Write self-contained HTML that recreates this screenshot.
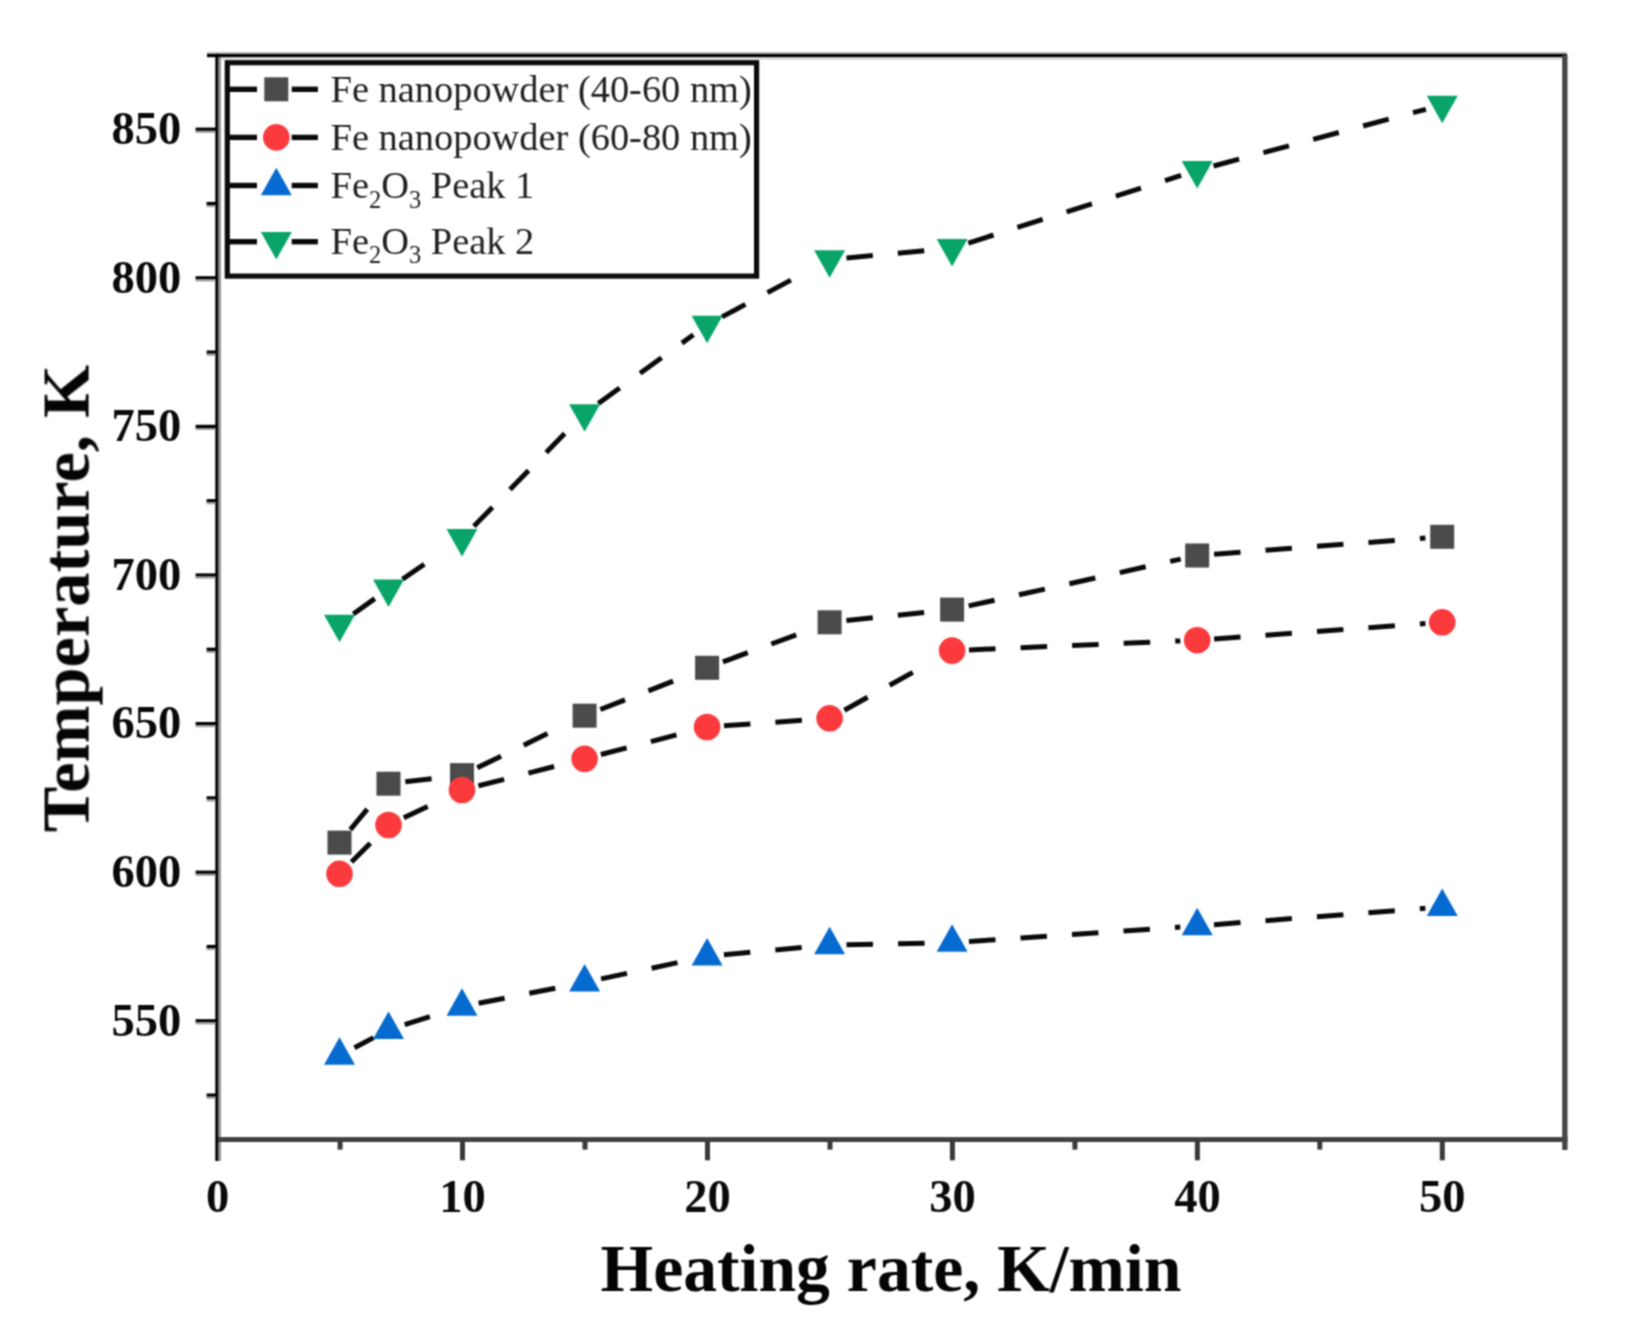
<!DOCTYPE html>
<html><head><meta charset="utf-8"><title>Heating rate chart</title>
<style>html,body{margin:0;padding:0;background:#fff}svg{display:block}text{font-family:"Liberation Serif","Times New Roman",serif}</style></head><body>
<svg width="1627" height="1332" viewBox="0 0 1627 1332">
<rect width="1627" height="1332" fill="#fff"/>
<defs><filter id="soft" color-interpolation-filters="sRGB" x="0" y="0" width="1627" height="1332" filterUnits="userSpaceOnUse"><feConvolveMatrix order="3" kernelMatrix="1 2 1 2 4 2 1 2 1" divisor="16" edgeMode="duplicate" preserveAlpha="false"/></filter></defs>
<g id="chart" style="filter:url(#soft)">
<rect x="215.3" y="53" width="3.2" height="1108" fill="#000"/>
<rect x="218.5" y="57" width="2.4" height="1104" fill="#8c8c8c"/>
<rect x="207" y="53.8" width="1360" height="3.4" fill="#000"/>
<rect x="207" y="52.2" width="1360" height="1.6" fill="#aaa"/>
<rect x="221" y="57.2" width="1342" height="2.2" fill="#ccc"/>
<rect x="218" y="1137.1" width="1349.5" height="4.9" fill="#404040"/>
<rect x="1562.2" y="55" width="5.3" height="1095" fill="#444"/>
<rect x="337.6" y="1140" width="5" height="9.6" fill="#3a3a3a"/>
<rect x="460.0" y="1140" width="5" height="20.3" fill="#3a3a3a"/>
<rect x="582.5" y="1140" width="5" height="9.6" fill="#3a3a3a"/>
<rect x="705.0" y="1140" width="5" height="20.3" fill="#3a3a3a"/>
<rect x="827.5" y="1140" width="5" height="9.6" fill="#3a3a3a"/>
<rect x="949.9" y="1140" width="5" height="20.3" fill="#3a3a3a"/>
<rect x="1072.4" y="1140" width="5" height="9.6" fill="#3a3a3a"/>
<rect x="1194.9" y="1140" width="5" height="20.3" fill="#3a3a3a"/>
<rect x="1317.3" y="1140" width="5" height="9.6" fill="#3a3a3a"/>
<rect x="1439.8" y="1140" width="5" height="20.3" fill="#3a3a3a"/>
<rect x="206.6" y="1093.5" width="10" height="3.2" fill="#000"/><rect x="206.6" y="1096.7" width="9" height="2" fill="#9a9a9a"/>
<rect x="195.6" y="1019.2" width="21" height="3.2" fill="#000"/><rect x="195.6" y="1022.4" width="20" height="2" fill="#9a9a9a"/>
<rect x="206.6" y="944.9" width="10" height="3.2" fill="#000"/><rect x="206.6" y="948.1" width="9" height="2" fill="#9a9a9a"/>
<rect x="195.6" y="870.6" width="21" height="3.2" fill="#000"/><rect x="195.6" y="873.8" width="20" height="2" fill="#9a9a9a"/>
<rect x="206.6" y="796.3" width="10" height="3.2" fill="#000"/><rect x="206.6" y="799.5" width="9" height="2" fill="#9a9a9a"/>
<rect x="195.6" y="722.0" width="21" height="3.2" fill="#000"/><rect x="195.6" y="725.2" width="20" height="2" fill="#9a9a9a"/>
<rect x="206.6" y="647.7" width="10" height="3.2" fill="#000"/><rect x="206.6" y="650.9" width="9" height="2" fill="#9a9a9a"/>
<rect x="195.6" y="573.4" width="21" height="3.2" fill="#000"/><rect x="195.6" y="576.6" width="20" height="2" fill="#9a9a9a"/>
<rect x="206.6" y="499.1" width="10" height="3.2" fill="#000"/><rect x="206.6" y="502.3" width="9" height="2" fill="#9a9a9a"/>
<rect x="195.6" y="424.8" width="21" height="3.2" fill="#000"/><rect x="195.6" y="428.0" width="20" height="2" fill="#9a9a9a"/>
<rect x="206.6" y="350.5" width="10" height="3.2" fill="#000"/><rect x="206.6" y="353.7" width="9" height="2" fill="#9a9a9a"/>
<rect x="195.6" y="276.2" width="21" height="3.2" fill="#000"/><rect x="195.6" y="279.4" width="20" height="2" fill="#9a9a9a"/>
<rect x="206.6" y="201.9" width="10" height="3.2" fill="#000"/><rect x="206.6" y="205.1" width="9" height="2" fill="#9a9a9a"/>
<rect x="195.6" y="127.6" width="21" height="3.2" fill="#000"/><rect x="195.6" y="130.8" width="20" height="2" fill="#9a9a9a"/>
<text x="217.6" y="1212" font-size="46.5" font-weight="bold" text-anchor="middle" fill="#0a0a0a">0</text>
<text x="462.5" y="1212" font-size="46.5" font-weight="bold" text-anchor="middle" fill="#0a0a0a">10</text>
<text x="707.5" y="1212" font-size="46.5" font-weight="bold" text-anchor="middle" fill="#0a0a0a">20</text>
<text x="952.4" y="1212" font-size="46.5" font-weight="bold" text-anchor="middle" fill="#0a0a0a">30</text>
<text x="1197.4" y="1212" font-size="46.5" font-weight="bold" text-anchor="middle" fill="#0a0a0a">40</text>
<text x="1442.3" y="1212" font-size="46.5" font-weight="bold" text-anchor="middle" fill="#0a0a0a">50</text>
<text x="181.3" y="1035.5" font-size="46.5" font-weight="bold" text-anchor="end" fill="#0a0a0a">550</text>
<text x="181.3" y="886.9" font-size="46.5" font-weight="bold" text-anchor="end" fill="#0a0a0a">600</text>
<text x="181.3" y="738.3" font-size="46.5" font-weight="bold" text-anchor="end" fill="#0a0a0a">650</text>
<text x="181.3" y="589.7" font-size="46.5" font-weight="bold" text-anchor="end" fill="#0a0a0a">700</text>
<text x="181.3" y="441.1" font-size="46.5" font-weight="bold" text-anchor="end" fill="#0a0a0a">750</text>
<text x="181.3" y="292.5" font-size="46.5" font-weight="bold" text-anchor="end" fill="#0a0a0a">800</text>
<text x="181.3" y="143.9" font-size="46.5" font-weight="bold" text-anchor="end" fill="#0a0a0a">850</text>
<text x="891" y="1290.6" font-size="67.7" font-weight="bold" text-anchor="middle" fill="#050505">Heating rate, K/min</text>
<text transform="translate(88.6,598.5) rotate(-90)" font-size="68.4" font-weight="bold" text-anchor="middle" fill="#050505">Temperature, K</text>
<line x1="350.3" y1="829.6" x2="367.3" y2="809.2" stroke="#0a0a0a" stroke-width="5.0"/>
<line x1="405.3" y1="781.8" x2="431.6" y2="778.7" stroke="#0a0a0a" stroke-width="5.0"/>
<line x1="477.3" y1="767.7" x2="501.1" y2="756.2" stroke="#0a0a0a" stroke-width="5.0"/>
<line x1="523.7" y1="745.2" x2="547.5" y2="733.6" stroke="#0a0a0a" stroke-width="5.0"/>
<line x1="600.3" y1="709.5" x2="625.0" y2="699.9" stroke="#0a0a0a" stroke-width="5.0"/>
<line x1="648.4" y1="690.8" x2="673.1" y2="681.1" stroke="#0a0a0a" stroke-width="5.0"/>
<line x1="722.9" y1="661.9" x2="747.8" y2="652.7" stroke="#0a0a0a" stroke-width="5.0"/>
<line x1="771.3" y1="644.0" x2="796.2" y2="634.8" stroke="#0a0a0a" stroke-width="5.0"/>
<line x1="846.4" y1="620.6" x2="872.8" y2="617.8" stroke="#0a0a0a" stroke-width="5.0"/>
<line x1="897.8" y1="615.2" x2="924.1" y2="612.5" stroke="#0a0a0a" stroke-width="5.0"/>
<line x1="968.7" y1="605.9" x2="994.5" y2="600.2" stroke="#0a0a0a" stroke-width="5.0"/>
<line x1="1019.0" y1="594.8" x2="1044.9" y2="589.1" stroke="#0a0a0a" stroke-width="5.0"/>
<line x1="1069.4" y1="583.7" x2="1095.3" y2="578.0" stroke="#0a0a0a" stroke-width="5.0"/>
<line x1="1119.8" y1="572.6" x2="1145.7" y2="566.8" stroke="#0a0a0a" stroke-width="5.0"/>
<line x1="1170.2" y1="561.4" x2="1180.7" y2="559.1" stroke="#0a0a0a" stroke-width="5.0"/>
<line x1="1214.1" y1="554.2" x2="1240.5" y2="552.2" stroke="#0a0a0a" stroke-width="5.0"/>
<line x1="1265.5" y1="550.3" x2="1291.9" y2="548.2" stroke="#0a0a0a" stroke-width="5.0"/>
<line x1="1317.0" y1="546.3" x2="1343.4" y2="544.3" stroke="#0a0a0a" stroke-width="5.0"/>
<line x1="1368.4" y1="542.4" x2="1394.8" y2="540.4" stroke="#0a0a0a" stroke-width="5.0"/>
<line x1="1419.9" y1="538.5" x2="1425.4" y2="538.0" stroke="#0a0a0a" stroke-width="5.0"/>
<line x1="351.5" y1="861.9" x2="370.3" y2="843.2" stroke="#0a0a0a" stroke-width="5.0"/>
<line x1="403.8" y1="817.8" x2="427.7" y2="806.4" stroke="#0a0a0a" stroke-width="5.0"/>
<line x1="478.4" y1="785.8" x2="504.1" y2="779.3" stroke="#0a0a0a" stroke-width="5.0"/>
<line x1="528.4" y1="773.1" x2="554.1" y2="766.5" stroke="#0a0a0a" stroke-width="5.0"/>
<line x1="600.9" y1="754.5" x2="626.6" y2="747.9" stroke="#0a0a0a" stroke-width="5.0"/>
<line x1="650.9" y1="741.6" x2="676.5" y2="734.9" stroke="#0a0a0a" stroke-width="5.0"/>
<line x1="724.0" y1="725.8" x2="750.4" y2="723.9" stroke="#0a0a0a" stroke-width="5.0"/>
<line x1="775.4" y1="722.2" x2="801.9" y2="720.3" stroke="#0a0a0a" stroke-width="5.0"/>
<line x1="844.4" y1="710.2" x2="867.6" y2="697.3" stroke="#0a0a0a" stroke-width="5.0"/>
<line x1="889.6" y1="685.2" x2="912.8" y2="672.4" stroke="#0a0a0a" stroke-width="5.0"/>
<line x1="969.0" y1="649.9" x2="995.5" y2="648.7" stroke="#0a0a0a" stroke-width="5.0"/>
<line x1="1020.6" y1="647.7" x2="1047.1" y2="646.6" stroke="#0a0a0a" stroke-width="5.0"/>
<line x1="1072.1" y1="645.5" x2="1098.6" y2="644.4" stroke="#0a0a0a" stroke-width="5.0"/>
<line x1="1123.7" y1="643.3" x2="1150.2" y2="642.2" stroke="#0a0a0a" stroke-width="5.0"/>
<line x1="1175.2" y1="641.1" x2="1180.3" y2="640.9" stroke="#0a0a0a" stroke-width="5.0"/>
<line x1="1214.1" y1="639.0" x2="1240.5" y2="637.0" stroke="#0a0a0a" stroke-width="5.0"/>
<line x1="1265.5" y1="635.2" x2="1291.9" y2="633.3" stroke="#0a0a0a" stroke-width="5.0"/>
<line x1="1317.0" y1="631.5" x2="1343.4" y2="629.5" stroke="#0a0a0a" stroke-width="5.0"/>
<line x1="1368.4" y1="627.7" x2="1394.9" y2="625.8" stroke="#0a0a0a" stroke-width="5.0"/>
<line x1="1419.9" y1="624.0" x2="1425.4" y2="623.6" stroke="#0a0a0a" stroke-width="5.0"/>
<line x1="354.5" y1="1047.7" x2="373.6" y2="1037.6" stroke="#0a0a0a" stroke-width="5.0"/>
<line x1="404.7" y1="1024.6" x2="429.9" y2="1016.7" stroke="#0a0a0a" stroke-width="5.0"/>
<line x1="478.6" y1="1003.3" x2="504.6" y2="998.2" stroke="#0a0a0a" stroke-width="5.0"/>
<line x1="529.3" y1="993.3" x2="555.3" y2="988.2" stroke="#0a0a0a" stroke-width="5.0"/>
<line x1="601.1" y1="978.9" x2="627.0" y2="973.4" stroke="#0a0a0a" stroke-width="5.0"/>
<line x1="651.6" y1="968.2" x2="677.5" y2="962.6" stroke="#0a0a0a" stroke-width="5.0"/>
<line x1="723.9" y1="954.8" x2="750.3" y2="952.3" stroke="#0a0a0a" stroke-width="5.0"/>
<line x1="775.3" y1="950.0" x2="801.7" y2="947.6" stroke="#0a0a0a" stroke-width="5.0"/>
<line x1="846.5" y1="944.7" x2="873.0" y2="944.2" stroke="#0a0a0a" stroke-width="5.0"/>
<line x1="898.1" y1="943.7" x2="924.6" y2="943.2" stroke="#0a0a0a" stroke-width="5.0"/>
<line x1="969.0" y1="941.5" x2="995.5" y2="939.7" stroke="#0a0a0a" stroke-width="5.0"/>
<line x1="1020.5" y1="938.0" x2="1046.9" y2="936.2" stroke="#0a0a0a" stroke-width="5.0"/>
<line x1="1072.0" y1="934.5" x2="1098.4" y2="932.7" stroke="#0a0a0a" stroke-width="5.0"/>
<line x1="1123.5" y1="931.0" x2="1149.9" y2="929.2" stroke="#0a0a0a" stroke-width="5.0"/>
<line x1="1174.9" y1="927.5" x2="1180.3" y2="927.1" stroke="#0a0a0a" stroke-width="5.0"/>
<line x1="1214.0" y1="924.7" x2="1240.5" y2="922.6" stroke="#0a0a0a" stroke-width="5.0"/>
<line x1="1265.5" y1="920.7" x2="1291.9" y2="918.6" stroke="#0a0a0a" stroke-width="5.0"/>
<line x1="1316.9" y1="916.7" x2="1343.4" y2="914.7" stroke="#0a0a0a" stroke-width="5.0"/>
<line x1="1368.4" y1="912.7" x2="1394.8" y2="910.7" stroke="#0a0a0a" stroke-width="5.0"/>
<line x1="1419.8" y1="908.7" x2="1425.4" y2="908.3" stroke="#0a0a0a" stroke-width="5.0"/>
<line x1="353.3" y1="614.0" x2="374.8" y2="598.6" stroke="#0a0a0a" stroke-width="5.0"/>
<line x1="402.5" y1="579.2" x2="424.3" y2="564.2" stroke="#0a0a0a" stroke-width="5.0"/>
<line x1="473.9" y1="526.2" x2="492.5" y2="507.3" stroke="#0a0a0a" stroke-width="5.0"/>
<line x1="510.0" y1="489.4" x2="528.6" y2="470.4" stroke="#0a0a0a" stroke-width="5.0"/>
<line x1="546.2" y1="452.5" x2="564.7" y2="433.6" stroke="#0a0a0a" stroke-width="5.0"/>
<line x1="598.3" y1="403.5" x2="619.7" y2="388.0" stroke="#0a0a0a" stroke-width="5.0"/>
<line x1="640.1" y1="373.3" x2="661.6" y2="357.8" stroke="#0a0a0a" stroke-width="5.0"/>
<line x1="681.9" y1="343.1" x2="693.4" y2="334.8" stroke="#0a0a0a" stroke-width="5.0"/>
<line x1="722.0" y1="316.9" x2="745.4" y2="304.4" stroke="#0a0a0a" stroke-width="5.0"/>
<line x1="767.5" y1="292.6" x2="790.9" y2="280.1" stroke="#0a0a0a" stroke-width="5.0"/>
<line x1="846.5" y1="257.9" x2="872.8" y2="255.5" stroke="#0a0a0a" stroke-width="5.0"/>
<line x1="897.8" y1="253.2" x2="924.2" y2="250.7" stroke="#0a0a0a" stroke-width="5.0"/>
<line x1="968.3" y1="243.1" x2="993.5" y2="235.0" stroke="#0a0a0a" stroke-width="5.0"/>
<line x1="1017.4" y1="227.4" x2="1042.7" y2="219.4" stroke="#0a0a0a" stroke-width="5.0"/>
<line x1="1066.6" y1="211.8" x2="1091.9" y2="203.8" stroke="#0a0a0a" stroke-width="5.0"/>
<line x1="1115.8" y1="196.2" x2="1141.0" y2="188.2" stroke="#0a0a0a" stroke-width="5.0"/>
<line x1="1165.0" y1="180.6" x2="1181.1" y2="175.4" stroke="#0a0a0a" stroke-width="5.0"/>
<line x1="1213.5" y1="166.0" x2="1239.1" y2="159.1" stroke="#0a0a0a" stroke-width="5.0"/>
<line x1="1263.4" y1="152.6" x2="1289.0" y2="145.8" stroke="#0a0a0a" stroke-width="5.0"/>
<line x1="1313.2" y1="139.3" x2="1338.8" y2="132.5" stroke="#0a0a0a" stroke-width="5.0"/>
<line x1="1363.1" y1="126.0" x2="1388.7" y2="119.2" stroke="#0a0a0a" stroke-width="5.0"/>
<line x1="1413.0" y1="112.7" x2="1425.9" y2="109.3" stroke="#0a0a0a" stroke-width="5.0"/>
<rect x="327.5" y="830.6" width="24.0" height="24.0" fill="#4b4b4b"/>
<rect x="376.5" y="771.7" width="24.0" height="24.0" fill="#4b4b4b"/>
<rect x="450.0" y="763.1" width="24.0" height="24.0" fill="#4b4b4b"/>
<rect x="572.6" y="703.7" width="24.0" height="24.0" fill="#4b4b4b"/>
<rect x="695.1" y="655.8" width="24.0" height="24.0" fill="#4b4b4b"/>
<rect x="817.6" y="610.3" width="24.0" height="24.0" fill="#4b4b4b"/>
<rect x="940.1" y="597.6" width="24.0" height="24.0" fill="#4b4b4b"/>
<rect x="1185.2" y="543.5" width="24.0" height="24.0" fill="#4b4b4b"/>
<rect x="1430.2" y="524.8" width="24.0" height="24.0" fill="#4b4b4b"/>
<circle cx="339.5" cy="873.8" r="13.3" fill="#fb3a3e"/>
<circle cx="388.5" cy="825.0" r="13.3" fill="#fb3a3e"/>
<circle cx="462.0" cy="790.0" r="13.3" fill="#fb3a3e"/>
<circle cx="584.6" cy="758.8" r="13.3" fill="#fb3a3e"/>
<circle cx="707.1" cy="727.0" r="13.3" fill="#fb3a3e"/>
<circle cx="829.6" cy="718.3" r="13.3" fill="#fb3a3e"/>
<circle cx="952.1" cy="650.6" r="13.3" fill="#fb3a3e"/>
<circle cx="1197.2" cy="640.2" r="13.3" fill="#fb3a3e"/>
<circle cx="1442.2" cy="622.3" r="13.3" fill="#fb3a3e"/>
<polygon points="339.5,1037.2 355.0,1064.7 324.0,1064.7" fill="#066bd0"/>
<polygon points="388.5,1011.4 404.0,1038.9 373.0,1038.9" fill="#066bd0"/>
<polygon points="462.0,988.2 477.5,1015.7 446.5,1015.7" fill="#066bd0"/>
<polygon points="584.6,964.1 600.1,991.6 569.1,991.6" fill="#066bd0"/>
<polygon points="707.1,938.0 722.6,965.5 691.6,965.5" fill="#066bd0"/>
<polygon points="829.6,926.7 845.1,954.2 814.1,954.2" fill="#066bd0"/>
<polygon points="952.1,924.3 967.6,951.8 936.6,951.8" fill="#066bd0"/>
<polygon points="1197.2,907.7 1212.7,935.2 1181.7,935.2" fill="#066bd0"/>
<polygon points="1442.2,888.6 1457.8,916.1 1426.8,916.1" fill="#066bd0"/>
<polygon points="339.5,642.2 355.0,614.7 324.0,614.7" fill="#08a468"/>
<polygon points="388.5,607.1 404.0,579.6 373.0,579.6" fill="#08a468"/>
<polygon points="462.0,556.6 477.5,529.1 446.5,529.1" fill="#08a468"/>
<polygon points="584.6,431.8 600.1,404.3 569.1,404.3" fill="#08a468"/>
<polygon points="707.1,343.2 722.6,315.7 691.6,315.7" fill="#08a468"/>
<polygon points="829.6,277.8 845.1,250.3 814.1,250.3" fill="#08a468"/>
<polygon points="952.1,266.5 967.6,239.0 936.6,239.0" fill="#08a468"/>
<polygon points="1197.2,188.6 1212.7,161.1 1181.7,161.1" fill="#08a468"/>
<polygon points="1442.2,123.3 1457.8,95.8 1426.8,95.8" fill="#08a468"/>
<rect x="227.3" y="62.7" width="529.3" height="213.4" fill="#fff" stroke="#0c0c0c" stroke-width="5.2"/>
<rect x="228" y="86.6" width="29" height="5.4" fill="#0a0a0a"/><rect x="291.7" y="86.6" width="26.2" height="5.4" fill="#0a0a0a"/>
<rect x="264.3" y="77.3" width="24.0" height="24.0" fill="#4b4b4b"/>
<text x="330.6" y="101.9" font-size="38.4" fill="#222">Fe nanopowder (40-60 nm)</text>
<rect x="228" y="134.7" width="29" height="5.4" fill="#0a0a0a"/><rect x="291.7" y="134.7" width="26.2" height="5.4" fill="#0a0a0a"/>
<circle cx="276.3" cy="137.4" r="13.3" fill="#fb3a3e"/>
<text x="330.6" y="149.9" font-size="38.4" fill="#222">Fe nanopowder (60-80 nm)</text>
<rect x="228" y="182.8" width="29" height="5.4" fill="#0a0a0a"/><rect x="291.7" y="182.8" width="26.2" height="5.4" fill="#0a0a0a"/>
<polygon points="276.3,167.7 291.8,195.2 260.8,195.2" fill="#066bd0"/>
<text x="330.6" y="198.1" font-size="38.4" fill="#222">Fe<tspan font-size="24.5" dy="9.4">2</tspan><tspan dy="-9.4">O</tspan><tspan font-size="24.5" dy="9.4">3</tspan><tspan dy="-9.4"> Peak 1</tspan></text>
<rect x="228" y="239.0" width="29" height="5.4" fill="#0a0a0a"/><rect x="291.7" y="239.0" width="26.2" height="5.4" fill="#0a0a0a"/>
<polygon points="276.3,259.5 291.8,232.0 260.8,232.0" fill="#08a468"/>
<text x="330.6" y="253.9" font-size="38.4" fill="#222">Fe<tspan font-size="24.5" dy="9.4">2</tspan><tspan dy="-9.4">O</tspan><tspan font-size="24.5" dy="9.4">3</tspan><tspan dy="-9.4"> Peak 2</tspan></text>
</g></svg></body></html>
